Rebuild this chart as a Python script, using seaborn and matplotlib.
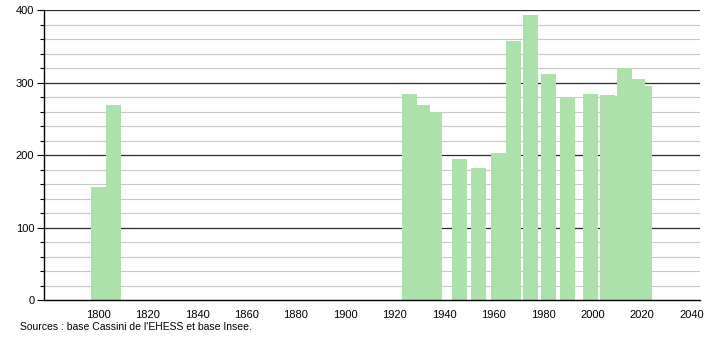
import matplotlib
matplotlib.use("Agg")
import matplotlib.pyplot as plt
from matplotlib.ticker import MultipleLocator
import seaborn as sns
import pandas as pd

years = [1800, 1806, 1926, 1931, 1936, 1946, 1954, 1962, 1968, 1975,
         1982, 1990, 1999, 2006, 2008, 2013, 2018, 2021]
population = [156, 269, 284, 269, 260, 194, 182, 203, 358, 394,
              312, 280, 285, 283, 282, 320, 305, 296]
x_ticks = list(range(1800, 2041, 20))
y_ticks = [0, 100, 200, 300, 400]
source_text = "Sources : base Cassini de l'EHESS et base Insee."

df = pd.DataFrame({"year": years, "population": population})

sns.set_style("white")
plt.rcParams["font.family"] = ["Liberation Sans", "DejaVu Sans"]

fig = plt.figure(figsize=(7.1, 3.4), dpi=100)
ax = fig.add_axes([44 / 710, 40 / 340, 656 / 710, 289.7 / 340])

sns.barplot(data=df, x="year", y="population", native_scale=True,
            width=3.05, color="#ace1ac", saturation=1, errorbar=None,
            linewidth=0, ax=ax)

# earlier census bars drawn over later ones
for p in ax.patches:
    p.set_zorder(3 + (2100 - p.get_x()) / 1000.0)
    p.set_edgecolor("none")

ax.set_xlim(1778.0, 2043.5)
ax.set_ylim(0, 400)
ax.set_xticks(x_ticks)
ax.set_xticklabels([str(t) for t in x_ticks])
ax.set_yticks(y_ticks)
ax.yaxis.set_minor_locator(MultipleLocator(20))

ax.grid(False)
for v in range(20, 400, 20):
    if v % 100:
        ax.axhline(v, color="#c8c8c8", lw=0.8, zorder=1)
for v in y_ticks[1:]:
    ax.axhline(v, color="#2a2a2a", lw=0.9, zorder=2)

for s in ["top", "right"]:
    ax.spines[s].set_visible(False)
for s in ["left", "bottom"]:
    ax.spines[s].set_visible(True)
    ax.spines[s].set_color("black")
    ax.spines[s].set_linewidth(1.0)
    ax.spines[s].set_zorder(20)

ax.tick_params(axis="y", which="major", left=True, length=5, width=0.8,
               color="black", labelcolor="black", labelsize=8, pad=2)
ax.tick_params(axis="y", which="minor", left=True, length=3, width=0.8,
               color="black")
ax.tick_params(axis="x", which="both", bottom=False, labelsize=8,
               labelcolor="black", pad=4)
ax.set_xlabel("")
ax.set_ylabel("")

fig.text(20 / 710, 1 - 327 / 340, source_text, fontsize=7.5, color="black",
         ha="left", va="center")

fig.savefig("out.png", dpi=100, facecolor="white")
